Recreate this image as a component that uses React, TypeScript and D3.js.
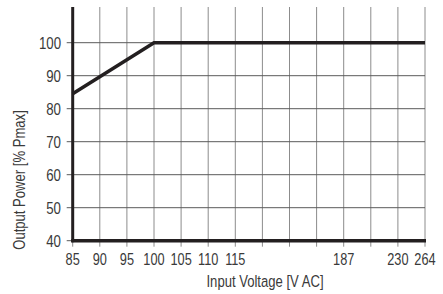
import React from 'react';
import * as d3 from 'd3';

// x axis is not linear: each label sits on its own grid column
const xTickValues = [85, 90, 95, 100, 105, 110, 115, 187, 230, 264];
const xTickColumns = [0, 1, 2, 3, 4, 5, 6, 10, 12, 13];
const yTickValues = [40, 50, 60, 70, 80, 90, 100];

// derating curve: output power vs input voltage
const curveVoltage = [85, 90, 95, 100, 264];
const curvePower = [84.5, 89.7, 94.8, 100, 100];

const W = 443;
const H = 294;
const left = 72.7;
const right = 425;
const top = 7;
const bottom = 240.7;
const ink = '#231f20';
const font = '"Liberation Sans", Arial, sans-serif';

// no condensed font installed, so squeeze the regular one
function Narrow({ x, y, size, sx, anchor = 'middle', rotate = 0, dy, children }: any) {
  return (
    <text
      transform={`translate(${x},${y}) rotate(${rotate}) scale(${sx},1)`}
      textAnchor={anchor}
      dy={dy}
      fontFamily={font}
      fontSize={size}
      fill="#3a3a3a"
    >
      {children}
    </text>
  );
}

export default function App() {
  const colScale = d3.scaleLinear().domain([0, 13]).range([left, right]);
  const x = d3
    .scaleLinear()
    .domain(xTickValues)
    .range(xTickColumns.map((c) => colScale(c)));
  const y = d3.scaleLinear().domain([40, 100]).range([bottom, 42.7]);

  const line = d3
    .line<number>()
    .x((d, i) => x(curveVoltage[i]))
    .y((d) => y(d));

  const columns = d3.range(0, 14);

  return (
    <svg
      width={W}
      height={H}
      style={{ position: 'absolute', left: 0, top: 0, background: '#fff' }}
    >
      {/* vertical grid, running a little below the axis as ticks */}
      {columns.map((c) => (
        <line
          key={'v' + c}
          x1={colScale(c)}
          x2={colScale(c)}
          y1={top}
          y2={bottom + 6}
          stroke="#8c8c8c"
          strokeWidth={1}
        />
      ))}
      {/* horizontal grid, poking out left of the axis */}
      {yTickValues.map((v) => (
        <line
          key={'h' + v}
          x1={left - 6}
          x2={right}
          y1={y(v)}
          y2={y(v)}
          stroke="#5a5a5a"
          strokeWidth={1}
        />
      ))}

      <line x1={left} x2={left} y1={top} y2={bottom + 1.5} stroke={ink} strokeWidth={3} />
      <line x1={left - 1.5} x2={right + 1} y1={bottom} y2={bottom} stroke={ink} strokeWidth={3.5} />

      <path
        d={line(curvePower) || ''}
        fill="none"
        stroke={ink}
        strokeWidth={3.5}
      />

      {yTickValues.map((v) => (
        <Narrow key={'yl' + v} x={61} y={y(v)} dy="0.36em" size={17} sx={0.78} anchor="end">
          {v}
        </Narrow>
      ))}
      {xTickValues.map((v) => (
        <Narrow key={'xl' + v} x={x(v)} y={265} size={17} sx={0.75}>
          {v}
        </Narrow>
      ))}

      <Narrow x={265} y={287} size={17} sx={0.77}>
        Input Voltage [V AC]
      </Narrow>
      <Narrow x={25} y={180} size={17} sx={0.77} rotate={-90}>
        Output Power [% Pmax]
      </Narrow>
    </svg>
  );
}
